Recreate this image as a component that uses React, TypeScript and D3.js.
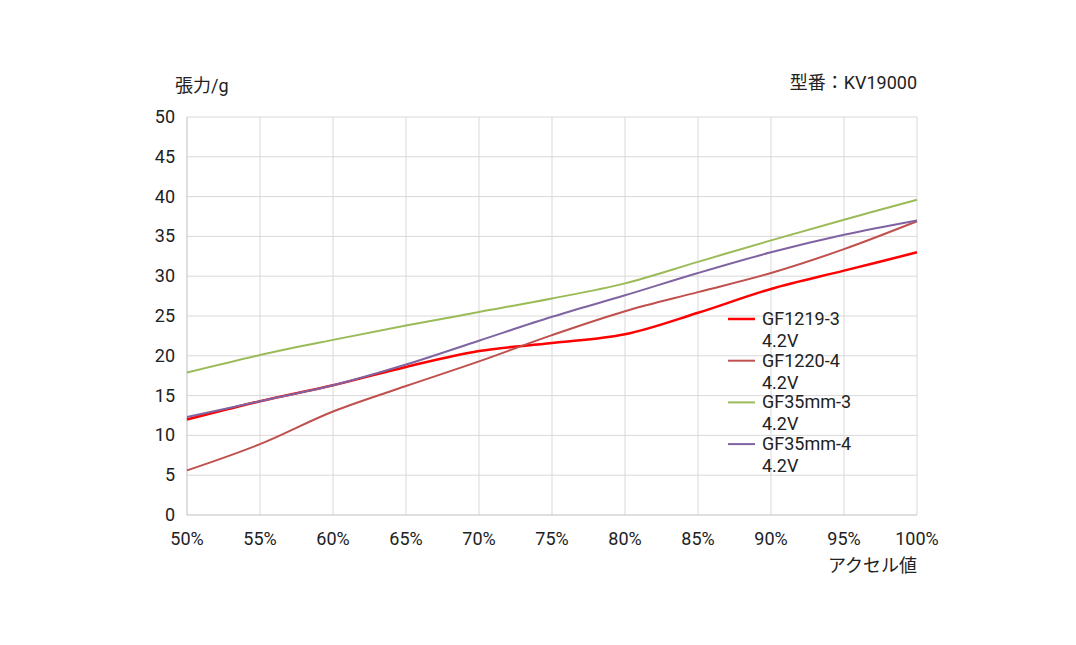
import { useRef, useEffect } from "react";
import * as d3 from "d3";

const accel = [50, 55, 60, 65, 70, 75, 80, 85, 90, 95, 100];
const gf1219 = [12.0, 14.3, 16.3, 18.6, 20.6, 21.6, 22.7, 25.4, 28.4, 30.7, 33.0];
const gf1220 = [5.6, 8.9, 13.0, 16.2, 19.3, 22.6, 25.6, 28.0, 30.4, 33.4, 36.9];
const gf35m3 = [17.9, 20.1, 22.0, 23.8, 25.5, 27.2, 29.1, 31.8, 34.5, 37.1, 39.6];
const gf35m4 = [12.3, 14.3, 16.3, 18.9, 21.9, 24.9, 27.6, 30.4, 33.0, 35.2, 37.0];
const yTicks = [0, 5, 10, 15, 20, 25, 30, 35, 40, 45, 50];

const SERIES = [
  { name: "GF1219-3", sub: "4.2V", values: gf1219, color: "#ff0000", width: 2.5 },
  { name: "GF1220-4", sub: "4.2V", values: gf1220, color: "#c0504d", width: 2 },
  { name: "GF35mm-3", sub: "4.2V", values: gf35m3, color: "#9bbb59", width: 2 },
  { name: "GF35mm-4", sub: "4.2V", values: gf35m4, color: "#8064a2", width: 2 },
];

const FONT = "Roboto, 'Noto Sans CJK JP', sans-serif";
const FS = 18;

export default function App() {
  const svgRef = useRef<SVGSVGElement>(null);

  useEffect(() => {
    if (!svgRef.current) return;
    const svg = d3.select(svgRef.current);
    svg.selectAll("*").remove();

    const left = 187, right = 917, top = 117, bottom = 515;
    const x = d3.scaleLinear().domain([50, 100]).range([left, right]);
    const y = d3.scaleLinear().domain([0, 50]).range([bottom, top]);

    const g = svg.append("g");

    // grid
    g.selectAll(".hg")
      .data(yTicks.filter((t) => t > 0))
      .enter()
      .append("line")
      .attr("x1", left)
      .attr("x2", right)
      .attr("y1", (d) => y(d))
      .attr("y2", (d) => y(d))
      .attr("stroke", "#d9d9d9");
    g.selectAll(".vg")
      .data(accel.filter((t) => t > 50))
      .enter()
      .append("line")
      .attr("x1", (d) => x(d))
      .attr("x2", (d) => x(d))
      .attr("y1", top)
      .attr("y2", bottom)
      .attr("stroke", "#d9d9d9");

    // axis lines
    g.append("line").attr("x1", left).attr("x2", left).attr("y1", top).attr("y2", bottom).attr("stroke", "#bfbfbf");
    g.append("line").attr("x1", left).attr("x2", right).attr("y1", bottom).attr("y2", bottom).attr("stroke", "#bfbfbf");

    const label = (tx: number, ty: number, s: string, anchor: string) =>
      g.append("text")
        .attr("x", tx)
        .attr("y", ty)
        .attr("text-anchor", anchor)
        .attr("font-size", FS)
        .attr("font-family", FONT)
        .attr("fill", "#222")
        .text(s);

    // tick labels
    yTicks.forEach((t) => label(left - 12, y(t) + 6, String(t), "end"));
    accel.forEach((t) => label(x(t), bottom + 30, `${t}%`, "middle"));

    // titles
    label(175, 92, "張力/g", "start");
    label(917, 89, "型番：KV19000", "end");
    label(917, 572, "アクセル値", "end");

    // lines
    const line = d3
      .line<number>()
      .x((_, i) => x(accel[i]))
      .y((d) => y(d))
      .curve(d3.curveCatmullRom.alpha(0.5));
    SERIES.forEach((s) => {
      g.append("path")
        .attr("d", line(s.values) || "")
        .attr("fill", "none")
        .attr("stroke", s.color)
        .attr("stroke-width", s.width);
    });

    // legend
    SERIES.forEach((s, i) => {
      const ly = 319 + i * 41.7;
      g.append("line")
        .attr("x1", 728)
        .attr("x2", 755)
        .attr("y1", ly)
        .attr("y2", ly)
        .attr("stroke", s.color)
        .attr("stroke-width", s.width);
      label(762, ly + 6, s.name, "start");
      label(762, ly + 28, s.sub, "start");
    });
  }, []);

  return (
    <div style={{ position: "fixed", left: 0, top: 0, width: 1076, height: 645, background: "#fff" }}>
      <svg ref={svgRef} width={1076} height={645} />
    </div>
  );
}
